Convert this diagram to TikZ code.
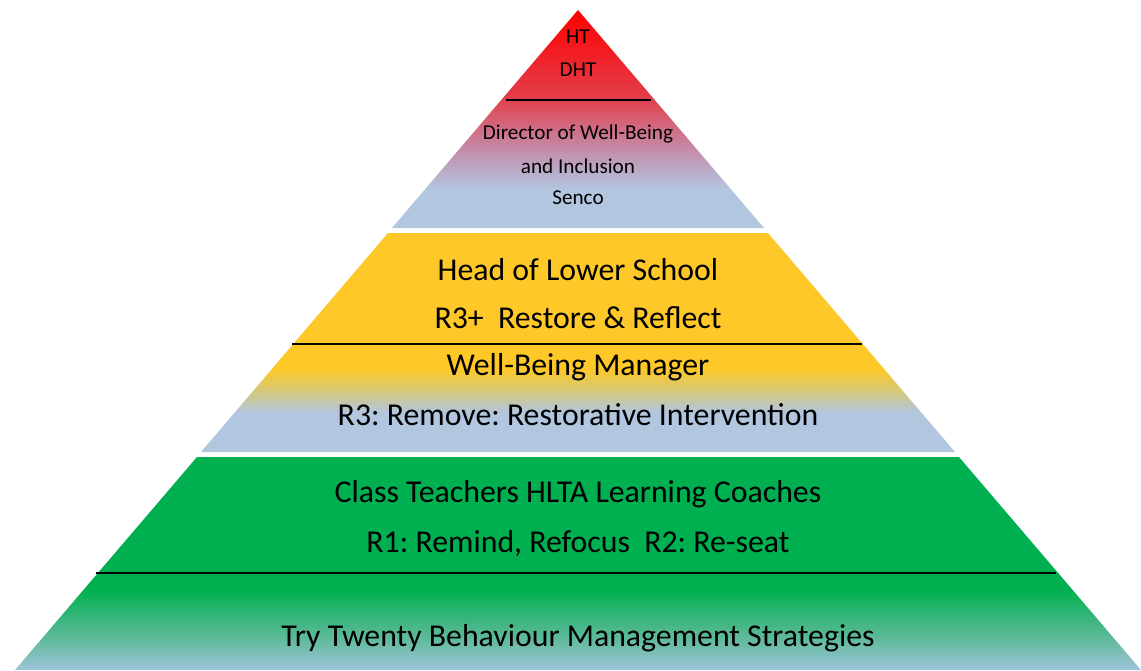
\documentclass[tikz,border=0pt]{standalone}
\usepackage{fontspec}
\setmainfont{Carlito}
\frenchspacing

\definecolor{peakred}{RGB}{255,0,0}
\definecolor{warmred}{RGB}{226,62,74}
\definecolor{mauve}{RGB}{196,140,170}
\definecolor{paleblue}{RGB}{178,198,224}
\definecolor{gold}{RGB}{254,200,40}
\definecolor{sand}{RGB}{214,200,120}
\definecolor{leafgreen}{RGB}{0,176,80}
\definecolor{seagreen}{RGB}{90,185,150}
\definecolor{baseblue}{RGB}{160,196,218}

% vertical shadings run bottom to top; 25bp..75bp is the path box
\pgfdeclareverticalshading{topshade}{100bp}{color(0bp)=(paleblue); color(25bp)=(paleblue); color(34bp)=(paleblue); color(43bp)=(mauve); color(55bp)=(warmred); color(75bp)=(peakred); color(100bp)=(peakred)}
\pgfdeclareverticalshading{midshade}{100bp}{color(0bp)=(paleblue); color(25bp)=(paleblue); color(34bp)=(paleblue); color(39bp)=(sand); color(44bp)=(gold); color(75bp)=(gold); color(100bp)=(gold)}
\pgfdeclareverticalshading{baseshade}{100bp}{color(0bp)=(baseblue); color(25bp)=(baseblue); color(33bp)=(seagreen); color(44bp)=(leafgreen); color(75bp)=(leafgreen); color(100bp)=(leafgreen)}

\begin{document}
\begin{tikzpicture}[x=0.5pt, y=-0.5pt]

    % Define the styles for the nodes
    \tikzstyle{big} = [font=\fontsize{15.9}{18}\selectfont, inner sep=0pt, text centered]
    \tikzstyle{small} = [font=\fontsize{10.6}{12}\selectfont, inner sep=0pt, text centered]
    \tikzstyle{divider} = [draw=black, line width=0.75pt]

    \useasboundingbox (0,0) rectangle (1141,670);

    % Tiers
    \shade[shading=topshade] (578,10) -- (764,228) -- (392,228) -- cycle;
    \shade[shading=midshade] (388,233) -- (768,233) -- (955,452) -- (201,452) -- cycle;
    \shade[shading=baseshade] (197,457) -- (959,457) -- (1141,670) -- (15,670) -- cycle;

    % Dividers
    \coordinate (topL) at (506,100);
    \coordinate (topR) at (651,100);
    \coordinate (midL) at (292,344);
    \coordinate (midR) at (862,344);
    \coordinate (baseL) at (96,573);
    \coordinate (baseR) at (1056,573);
    \draw[divider] (topL) -- (topR);
    \draw[divider] (midL) -- (midR);
    \draw[divider] (baseL) -- (baseR);

    % Nodes
    \node (ht) [small] at (578,37) {HT};
    \node (dht) [small] at (578,70) {DHT};
    \node (director) [small] at (578,134) {Director of Well-Being};
    \node (inclusion) [small] at (578,166) {and Inclusion};
    \node (senco) [small] at (578,198) {Senco};

    \node (head) [big] at (578,270) {Head of Lower School};
    \node (restore) [big] at (578,318) {R3+\ \ Restore \& Reflect};
    \node (manager) [big] at (578,367) {Well-Being Manager};
    \node (remove) [big] at (578,415) {R3: Remove: Restorative Intervention};

    \node (teachers) [big] at (578,494) {Class Teachers HLTA Learning Coaches};
    \node (remind) [big] at (578,543) {R1: Remind, Refocus\ \ R2: Re-seat};
    \node (twenty) [big] at (578,638) {Try Twenty Behaviour Management Strategies};

\end{tikzpicture}
\end{document}
